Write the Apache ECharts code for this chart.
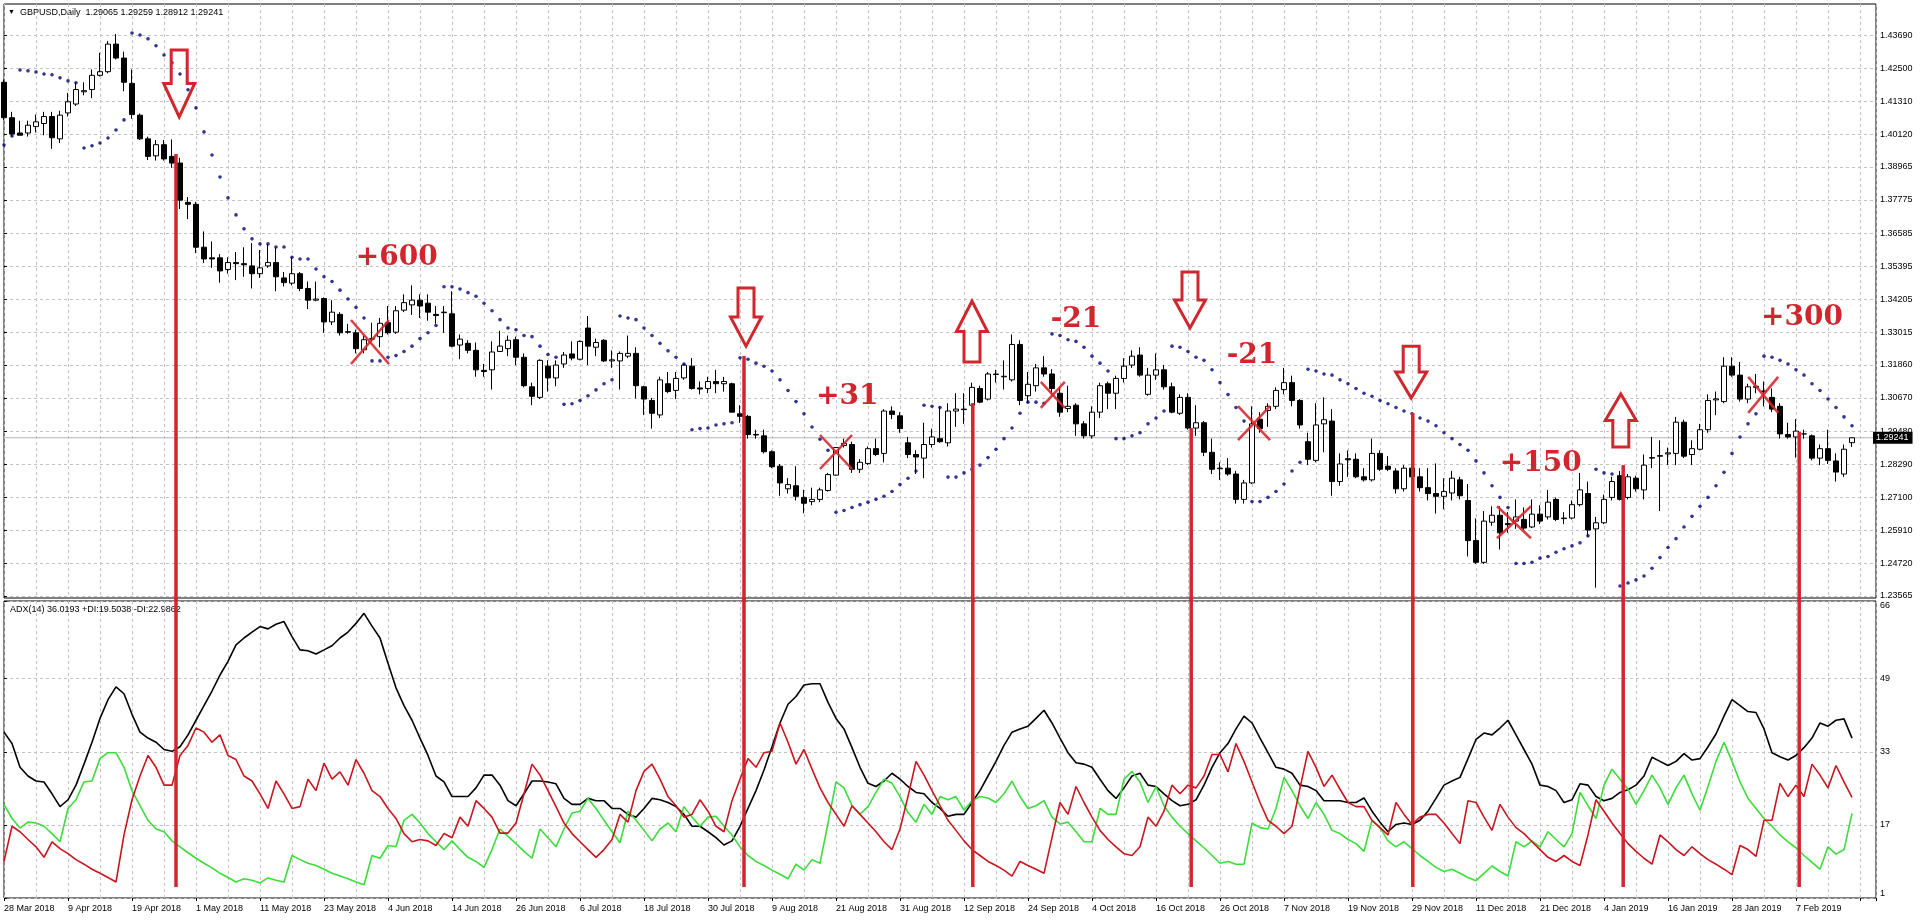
<!DOCTYPE html>
<html>
<head>
<meta charset="utf-8">
<script src="https://cdn.jsdelivr.net/npm/echarts@6/dist/echarts.min.js"></script>
<style>
html,body{margin:0;padding:0;background:#fff;}
#c{width:1920px;height:921px;}
</style>
</head>
<body>
<div id="c"></div>
<script>
// ---------------- DATA ----------------
const DATE_LABELS = ['28 Mar 2018','9 Apr 2018','19 Apr 2018','1 May 2018','11 May 2018','23 May 2018','4 Jun 2018','14 Jun 2018','26 Jun 2018','6 Jul 2018','18 Jul 2018','30 Jul 2018','9 Aug 2018','21 Aug 2018','31 Aug 2018','12 Sep 2018','24 Sep 2018','4 Oct 2018','16 Oct 2018','26 Oct 2018','7 Nov 2018','19 Nov 2018','29 Nov 2018','11 Dec 2018','21 Dec 2018','4 Jan 2019','16 Jan 2019','28 Jan 2019','7 Feb 2019'];
const PRICE_TICKS = [1.23565,1.24720,1.25910,1.27100,1.28290,1.29480,1.30670,1.31860,1.33015,1.34205,1.35395,1.36585,1.37775,1.38965,1.40120,1.41310,1.42500,1.43690];
const ADX_TICKS = [1,17,33,49,66];

const OPEN = [
1.4200,1.4073,1.4018,1.4018,1.4041,1.4052,1.4077,1.3997,1.4090,1.4122,
1.4166,1.4174,1.4225,1.4238,1.4337,1.4287,1.4196,1.4082,1.3997,1.3936,
1.3976,1.3934,1.3910,1.3769,1.3762,1.3608,1.3570,1.3570,1.3528,1.3553,
1.3549,1.3541,1.3513,1.3541,1.3553,1.3498,1.3479,1.3513,1.3460,1.3418,
1.3424,1.3340,1.3367,1.3305,1.3301,1.3240,1.3278,1.3287,1.3337,1.3303,
1.3382,1.3401,1.3418,1.3407,1.3367,1.3373,1.3369,1.3257,1.3263,1.3238,
1.3166,1.3168,1.3234,1.3244,1.3276,1.3213,1.3107,1.3069,1.3181,1.3139,
1.3189,1.3225,1.3206,1.3318,1.3249,1.3274,1.3200,1.3200,1.3217,1.3227,
1.3107,1.3058,1.3006,1.3118,1.3094,1.3139,1.3181,1.3103,1.3101,1.3126,
1.3118,1.3118,1.3010,1.3001,1.2936,1.2931,1.2874,1.2822,1.2741,1.2752,
1.2710,1.2695,1.2703,1.2735,1.2790,1.2896,1.2900,1.2811,1.2832,1.2885,
1.2868,1.3020,1.3003,1.2906,1.2864,1.2851,1.2900,1.2921,1.2906,1.3020,
1.3027,1.3041,1.3101,1.3063,1.3153,1.3143,1.3132,1.3259,1.3075,1.3111,
1.3175,1.3153,1.3084,1.3029,1.3041,1.2974,1.2931,1.3016,1.3118,1.3084,
1.3137,1.3185,1.3221,1.3080,1.3149,1.3168,1.3107,1.3012,1.3069,1.2959,
1.2978,1.2872,1.2815,1.2815,1.2794,1.2703,1.2762,1.2991,1.3022,1.3037,
1.3097,1.3122,1.3058,1.2910,1.2843,1.2974,1.2984,1.2767,1.2849,1.2847,
1.2784,1.2773,1.2868,1.2822,1.2805,1.2741,1.2815,1.2784,1.2745,1.2724,
1.2714,1.2726,1.2773,1.2699,1.2555,1.2477,1.2621,1.2646,1.2616,1.2625,
1.2631,1.2604,1.2650,1.2640,1.2703,1.2636,1.2636,1.2684,1.2724,1.2597,
1.2619,1.2710,1.2788,1.2710,1.2779,1.2737,1.2851,1.2860,1.2866,1.2868,
1.2980,1.2864,1.2883,1.2953,1.3060,1.3054,1.3181,1.3149,1.3063,1.3105,
1.3092,1.3069,1.3037,1.2936,1.2927,1.2938,1.2931,1.2851,1.2885,1.2841,
1.2794,1.29065];

const HIGH = [
1.4210,1.4094,1.4062,1.4062,1.4084,1.4094,1.4094,1.4098,1.4162,1.4200,
1.4200,1.4246,1.4306,1.4348,1.4373,1.4310,1.4246,1.4088,1.4005,1.3993,
1.3993,1.3995,1.3929,1.3788,1.3771,1.3665,1.3629,1.3583,1.3572,1.3591,
1.3608,1.3623,1.3598,1.3619,1.3608,1.3519,1.3572,1.3519,1.3485,1.3485,
1.3428,1.3418,1.3375,1.3333,1.3312,1.3291,1.3337,1.3354,1.3397,1.3397,
1.3439,1.3471,1.3439,1.3439,1.3397,1.3397,1.3450,1.3295,1.3274,1.3266,
1.3189,1.3270,1.3308,1.3291,1.3287,1.3227,1.3122,1.3206,1.3202,1.3202,
1.3232,1.3270,1.3274,1.3361,1.3280,1.3278,1.3238,1.3234,1.3291,1.3249,
1.3111,1.3067,1.3143,1.3160,1.3160,1.3191,1.3210,1.3126,1.3143,1.3168,
1.3143,1.3122,1.3041,1.3006,1.2953,1.2953,1.2879,1.2830,1.2779,1.2822,
1.2737,1.2745,1.2745,1.2798,1.2889,1.2921,1.2910,1.2847,1.2893,1.2921,
1.3027,1.3037,1.3016,1.2927,1.2879,1.2978,1.2957,1.3037,1.3048,1.3084,
1.3084,1.3122,1.3111,1.3160,1.3168,1.3202,1.3295,1.3274,1.3160,1.3189,
1.3217,1.3170,1.3101,1.3111,1.3048,1.2984,1.3037,1.3122,1.3126,1.3147,
1.3210,1.3238,1.3249,1.3175,1.3227,1.3185,1.3122,1.3080,1.3084,1.3041,
1.2984,1.2921,1.2836,1.2851,1.2805,1.2773,1.3037,1.3016,1.3048,1.3105,
1.3175,1.3147,1.3063,1.2942,1.3048,1.3069,1.3027,1.2868,1.2879,1.2868,
1.2815,1.2921,1.2879,1.2858,1.2815,1.2826,1.2826,1.2815,1.2815,1.2832,
1.2779,1.2805,1.2784,1.2758,1.2635,1.2661,1.2678,1.2678,1.2657,1.2703,
1.2674,1.2703,1.2682,1.2737,1.2710,1.2657,1.2699,1.2798,1.2767,1.2640,
1.2720,1.2784,1.2805,1.2794,1.2788,1.2864,1.2927,1.2915,1.2889,1.2999,
1.2989,1.2915,1.2974,1.3080,1.3090,1.3213,1.3213,1.3196,1.3118,1.3153,
1.3126,1.3101,1.3048,1.2978,1.2991,1.2953,1.2936,1.2900,1.2953,1.2868,
1.2900,1.29259];

const LOW = [
1.4065,1.4005,1.4010,1.4005,1.4020,1.4010,1.3961,1.3982,1.4077,1.4115,
1.4153,1.4143,1.4221,1.4232,1.4282,1.4168,1.4069,1.3993,1.3921,1.3919,
1.3919,1.3893,1.3745,1.3709,1.3587,1.3551,1.3534,1.3481,1.3513,1.3490,
1.3502,1.3460,1.3498,1.3534,1.3450,1.3467,1.3471,1.3450,1.3386,1.3414,
1.3301,1.3329,1.3291,1.3297,1.3227,1.3227,1.3270,1.3249,1.3295,1.3297,
1.3375,1.3365,1.3354,1.3344,1.3333,1.3301,1.3249,1.3206,1.3227,1.3143,
1.3143,1.3097,1.3232,1.3217,1.3185,1.3105,1.3041,1.3063,1.3090,1.3109,
1.3175,1.3202,1.3202,1.3185,1.3217,1.3196,1.3175,1.3097,1.3210,1.3065,
1.3006,1.2957,1.2995,1.3084,1.3063,1.3132,1.3097,1.3080,1.3084,1.3084,
1.3090,1.3016,1.2978,1.2921,1.2921,1.2868,1.2815,1.2716,1.2724,1.2699,
1.2653,1.2682,1.2693,1.2731,1.2788,1.2889,1.2798,1.2798,1.2826,1.2858,
1.2836,1.2991,1.2942,1.2851,1.2794,1.2779,1.2889,1.2906,1.2893,1.2963,
1.2974,1.3037,1.3048,1.3058,1.3122,1.3097,1.3126,1.3041,1.3048,1.3090,
1.3143,1.3075,1.2999,1.3016,1.2931,1.2921,1.2921,1.2995,1.3027,1.3027,
1.3122,1.3175,1.3143,1.3075,1.3132,1.3097,1.3012,1.3006,1.2953,1.2931,
1.2858,1.2794,1.2773,1.2788,1.2688,1.2688,1.2758,1.2942,1.2963,1.3027,
1.3080,1.3037,1.2957,1.2826,1.2836,1.2872,1.2716,1.2752,1.2784,1.2779,
1.2767,1.2767,1.2805,1.2805,1.2724,1.2731,1.2779,1.2731,1.2699,1.2652,
1.2667,1.2699,1.2703,1.2498,1.2471,1.2471,1.2608,1.2523,1.2583,1.2597,
1.2593,1.2600,1.2614,1.2631,1.2625,1.2614,1.2631,1.2678,1.2568,1.2386,
1.2614,1.2699,1.2699,1.2703,1.2731,1.2703,1.2815,1.2661,1.2826,1.2826,
1.2851,1.2826,1.2879,1.2942,1.3005,1.3048,1.3143,1.3054,1.3048,1.3084,
1.3037,1.3016,1.2921,1.2921,1.2853,1.2921,1.2843,1.2826,1.2830,1.2767,
1.2784,1.28912];

const CLOSE = [
1.4073,1.4014,1.4010,1.4046,1.4058,1.4077,1.4001,1.4082,1.4130,1.4174,
1.4170,1.4225,1.4238,1.4337,1.4287,1.4200,1.4084,1.3997,1.3934,1.3976,
1.3925,1.3910,1.3777,1.3762,1.3608,1.3566,1.3566,1.3523,1.3553,1.3549,
1.3545,1.3513,1.3534,1.3553,1.3502,1.3481,1.3513,1.3460,1.3418,1.3422,
1.3340,1.3375,1.3301,1.3303,1.3244,1.3276,1.3280,1.3335,1.3301,1.3380,
1.3409,1.3418,1.3397,1.3375,1.3363,1.3375,1.3253,1.3278,1.3238,1.3168,
1.3162,1.3232,1.3253,1.3274,1.3213,1.3111,1.3073,1.3202,1.3139,1.3185,
1.3221,1.3210,1.3270,1.3253,1.3266,1.3200,1.3204,1.3227,1.3227,1.3111,
1.3063,1.3012,1.3132,1.3090,1.3137,1.3185,1.3101,1.3099,1.3126,1.3118,
1.3126,1.3016,1.3001,1.2936,1.2934,1.2874,1.2820,1.2762,1.2756,1.2714,
1.2689,1.2703,1.2737,1.2792,1.2889,1.2904,1.2811,1.2836,1.2885,1.2864,
1.3020,1.3008,1.2957,1.2864,1.2855,1.2900,1.2927,1.2910,1.3020,1.3027,
1.3025,1.3105,1.3052,1.3153,1.3151,1.3145,1.3259,1.3058,1.3116,1.3175,
1.3153,1.3101,1.3016,1.3037,1.2974,1.2931,1.3016,1.3111,1.3084,1.3137,
1.3181,1.3217,1.3149,1.3149,1.3168,1.3107,1.3016,1.3069,1.2959,1.2978,
1.2872,1.2811,1.2813,1.2794,1.2703,1.2762,1.2974,1.2957,1.3037,1.3094,
1.3122,1.3058,1.2970,1.2847,1.2970,1.2989,1.2767,1.2830,1.2845,1.2784,
1.2773,1.2868,1.2811,1.2811,1.2741,1.2815,1.2784,1.2745,1.2724,1.2714,
1.2731,1.2779,1.2716,1.2555,1.2477,1.2625,1.2646,1.2583,1.2612,1.2640,
1.2600,1.2650,1.2625,1.2693,1.2631,1.2634,1.2684,1.2737,1.2593,1.2619,
1.2703,1.2767,1.2703,1.2784,1.2741,1.2826,1.2853,1.2858,1.2870,1.2980,
1.2858,1.2885,1.2953,1.3058,1.3064,1.3181,1.3149,1.3063,1.3107,1.3109,
1.3090,1.3027,1.2938,1.2927,1.2948,1.2938,1.2851,1.2885,1.2843,1.2801,
1.2883,1.29241];

const SAR = [
1.3975,1.4007,1.4244,1.4241,1.4237,1.4230,1.4227,1.4216,1.4205,1.4198,
1.3964,1.3972,1.3982,1.4000,1.4029,1.4065,1.4377,1.4370,1.4356,1.4331,
1.4298,1.4270,1.4230,1.4173,1.4108,1.4022,1.3939,1.3860,1.3785,1.3724,
1.3674,1.3638,1.3620,1.3620,1.3609,1.3609,1.3572,1.3566,1.3566,1.3530,
1.3502,1.3485,1.3454,1.3422,1.3392,1.3354,1.3200,1.3200,1.3213,1.3219,
1.3234,1.3253,1.3280,1.3301,1.3327,1.3466,1.3466,1.3458,1.3445,1.3432,
1.3407,1.3380,1.3348,1.3318,1.3312,1.3291,1.3287,1.3253,1.3223,1.3213,
1.3044,1.3046,1.3058,1.3075,1.3096,1.3118,1.3132,1.3361,1.3354,1.3348,
1.3318,1.3291,1.3263,1.3236,1.3213,1.3189,1.2953,1.2957,1.2959,1.2970,
1.2974,1.2978,1.3211,1.3206,1.3192,1.3181,1.3164,1.3132,1.3094,1.3054,
1.3010,1.2963,1.2919,1.2879,1.2657,1.2663,1.2674,1.2684,1.2693,1.2703,
1.2714,1.2731,1.2756,1.2779,1.2805,1.3041,1.3037,1.3033,1.2783,1.2783,
1.2798,1.2811,1.2826,1.2853,1.2883,1.2921,1.2959,1.3012,1.3052,1.3052,
1.3048,1.3297,1.3291,1.3276,1.3270,1.3249,1.3217,1.3192,1.3164,1.2921,
1.2921,1.2931,1.2942,1.2974,1.2995,1.3020,1.3253,1.3249,1.3234,1.3213,
1.3202,1.3168,1.3122,1.3079,1.3033,1.2984,1.2695,1.2695,1.2710,1.2731,
1.2758,1.2805,1.2836,1.3170,1.3164,1.3153,1.3149,1.3132,1.3118,1.3101,
1.3084,1.3073,1.3058,1.3046,1.3033,1.3020,1.3010,1.2995,1.2984,1.2967,
1.2942,1.2921,1.2900,1.2879,1.2841,1.2798,1.2752,1.2710,1.2674,1.2473,
1.2473,1.2477,1.2492,1.2498,1.2513,1.2526,1.2536,1.2547,1.2572,1.2811,
1.2798,1.2794,1.2392,1.2403,1.2414,1.2428,1.2456,1.2494,1.2530,1.2562,
1.2604,1.2642,1.2678,1.2710,1.2752,1.2800,1.2868,1.2927,1.2974,1.3010,
1.3217,1.3213,1.3202,1.3189,1.3168,1.3149,1.3118,1.3094,1.3063,1.3033,
1.2999,1.2967];

const ADX = [
37.3,34.8,29.6,27.7,26.6,26.4,23.8,21.0,22.5,25.7,
30.3,35.1,40.3,44.4,47.2,45.7,41.2,37.3,36.0,35.1,
33.5,33.1,34.1,36.7,39.9,43.1,46.3,49.8,52.8,56.4,
57.9,59.2,60.4,59.9,60.9,61.5,58.2,55.3,55.1,54.4,
55.3,56.2,57.9,59.2,61.1,63.3,60.5,57.9,52.4,47.0,
43.1,39.9,36.0,32.2,27.7,26.4,23.2,23.2,23.2,25.1,
27.9,27.9,25.7,22.3,21.2,23.8,26.6,26.6,26.4,26.0,
22.8,21.5,21.5,22.8,22.3,22.3,20.6,20.6,19.3,18.7,
20.6,22.8,22.5,21.9,21.0,19.3,16.7,16.7,15.5,14.2,
12.6,13.5,16.7,20.6,24.5,29.0,34.1,39.3,43.4,45.1,
47.6,47.9,47.9,43.8,40.3,38.0,33.9,29.6,26.1,25.4,
26.6,28.3,27.0,25.4,24.1,23.8,21.9,20.6,18.9,19.3,
19.3,21.9,24.5,27.7,30.9,34.4,37.3,38.0,38.6,40.3,
42.1,39.3,36.0,32.8,30.6,30.3,29.6,27.0,24.5,22.8,
25.1,27.7,28.3,25.7,25.4,23.8,22.3,21.2,21.5,22.5,
25.7,29.6,32.8,34.8,38.0,40.8,39.3,36.0,32.8,29.6,
29.2,28.3,25.7,25.4,24.5,22.3,22.3,22.3,21.9,21.9,
22.9,20.0,17.6,15.5,17.1,17.4,17.1,18.0,20.0,22.8,
25.7,26.6,27.4,31.5,35.7,37.1,36.7,38.2,39.9,36.7,
33.5,30.3,25.7,25.4,24.5,21.9,22.5,26.0,25.7,23.2,
22.3,22.8,24.1,24.7,25.7,27.7,31.8,30.9,30.0,30.9,
32.6,31.2,31.5,34.1,36.9,40.8,44.4,43.1,41.8,41.6,
38.0,32.8,31.9,31.2,32.2,33.9,36.0,39.3,38.6,39.9,
40.2,36.0];

const MINUS_DI = [
9.0,16.7,15.5,13.8,12.2,9.9,13.3,11.8,10.7,9.4,
8.4,7.3,6.4,5.5,4.5,14.8,22.5,27.7,32.2,29.6,
25.7,25.7,32.2,34.4,38.2,37.3,35.1,36.7,32.2,31.3,
27.7,26.6,23.8,20.6,26.6,23.8,20.6,21.0,27.0,24.5,
30.5,27.0,28.6,25.7,31.3,28.3,24.5,23.2,20.6,18.4,
15.1,13.3,13.8,13.5,12.5,15.1,14.2,18.7,16.7,22.3,
20.6,18.7,15.2,15.2,17.4,23.8,30.3,27.9,24.5,21.0,
17.4,15.1,13.3,11.6,9.9,11.6,13.8,19.3,17.6,24.5,
28.7,30.3,27.0,23.2,21.2,18.7,19.3,22.5,20.0,16.7,
15.5,22.3,27.0,31.5,29.6,32.8,33.1,39.3,35.1,30.3,
33.5,29.2,25.1,21.9,19.3,16.7,21.2,19.3,17.4,15.5,
13.3,11.6,16.1,23.2,30.9,27.9,24.5,21.2,18.0,15.8,
13.5,11.6,10.3,9.0,8.1,7.1,5.8,9.0,8.1,7.3,
6.4,14.2,21.9,19.3,25.4,21.9,18.7,15.8,13.8,12.2,
10.7,10.3,12.2,18.7,16.7,20.0,25.7,23.8,25.7,25.1,
27.7,32.4,32.4,28.6,34.8,30.9,26.4,21.9,18.0,16.7,
15.1,16.7,25.1,33.1,29.6,25.4,27.9,24.8,21.9,21.0,
21.0,18.0,16.4,14.8,21.9,19.3,17.1,18.7,19.3,19.3,
17.4,15.1,12.9,22.3,21.9,18.7,15.8,21.5,18.7,16.4,
15.1,13.3,11.6,9.9,9.0,10.3,9.0,8.1,14.8,22.5,
20.0,17.4,15.1,12.9,11.2,9.7,8.4,14.8,13.3,11.6,
10.3,12.2,10.7,9.4,8.4,7.3,6.1,12.5,11.6,10.1,
18.0,18.0,26.1,23.2,25.7,23.2,30.3,27.9,25.1,30.0,
26.4,23.0];

const PLUS_DI = [
21.5,18.4,16.3,17.6,17.4,16.7,15.1,13.3,20.6,22.5,
26.4,26.6,31.5,32.8,32.8,29.6,24.5,21.2,18.0,16.1,
15.5,13.5,12.2,10.9,9.7,8.6,7.6,6.4,5.5,4.5,
5.2,4.9,4.3,5.4,4.9,4.5,10.3,9.4,8.6,8.1,
7.3,6.4,5.8,5.2,4.5,3.9,10.3,9.7,12.5,12.2,
18.0,19.3,17.4,15.1,13.3,11.6,13.5,11.6,9.9,9.0,
7.7,11.6,16.1,14.5,12.9,11.2,9.7,16.1,14.2,12.2,
16.1,19.6,20.0,22.8,20.6,18.0,15.5,13.1,20.0,18.0,
15.8,13.5,16.1,17.4,15.5,21.0,18.7,16.7,18.7,18.9,
16.7,14.8,12.2,10.3,9.0,8.1,7.1,6.2,5.2,8.4,
7.1,9.4,8.6,17.4,26.4,25.1,21.2,19.3,21.0,24.1,
27.0,26.1,23.2,19.7,17.6,21.5,19.3,23.2,22.5,23.2,
20.2,22.3,23.2,22.9,21.9,23.8,26.6,23.2,20.6,21.2,
22.3,18.7,17.2,17.6,15.5,13.3,13.3,20.6,19.3,19.3,
27.0,28.7,26.4,21.9,25.4,21.2,18.7,16.7,15.1,13.5,
12.0,10.3,8.6,9.0,8.4,8.4,17.4,16.4,16.1,20.6,
27.4,24.5,21.2,18.4,21.9,19.3,15.8,15.1,13.8,12.9,
11.2,18.0,16.4,13.5,12.2,13.3,11.8,10.3,9.0,7.7,
6.8,7.3,6.4,5.5,4.8,6.4,8.0,6.8,5.8,13.3,
12.2,13.5,12.2,15.5,13.8,12.2,15.1,24.1,21.2,18.4,
25.7,29.2,27.0,24.8,21.5,24.5,27.9,25.1,21.5,25.1,
27.9,23.8,20.2,25.4,30.9,35.1,30.9,26.4,22.8,20.6,
18.4,16.7,14.8,13.3,12.0,10.3,8.8,7.3,12.2,10.6,
11.6,19.5];

// annotations (bar index, price)
const VLINE_X   = [21.5, 92.5, 121.1, 148.4, 176.1, 202.4, 224.4];
const VLINE_TOP = [1.3943, 1.3218, 1.3049, 1.2959, 1.3013, 1.2826, 1.2945];
const VLINE_ADX_BOTTOM = 3.4;
const ARROW_X    = [21.9, 92.75, 121.0, 148.25, 175.9, 202.1];
const ARROW_TIP  = [1.4076, 1.3253, 1.3415, 1.3318, 1.3067, 1.3081];
const ARROW_TAIL = [1.4316, 1.3462, 1.3196, 1.3519, 1.3253, 1.2891];
const XMARK_X = [45.75, 104, 131.1, 156.25, 188.75, 219.9];
const XMARK_Y = [1.3268, 1.2873, 1.3078, 1.2977, 1.2621, 1.3078];
const NOTE_TEXT = ['+600', '+31', '-21', '-21', '+150', '+300'];
const NOTE_X = [49.1, 105.4, 134, 156, 192.1, 224.75];
const NOTE_Y = [1.3569, 1.3070, 1.3347, 1.3218, 1.2830, 1.3354];
const ADX_HEADER = 'ADX(14) 36.0193 +DI:19.5038 -DI:22.9862';

// ---------------- STYLE ----------------
const RED = '#d0262d';
const FONT = '"Liberation Sans", Arial, sans-serif';
const NOTE_FONT = 'bold 28px "DejaVu Serif", serif';
const XMARK_HALF = [[19,22],[16,17],[12,13],[16,17],[17,16],[15,18]];
const N = OPEN.length;
const X_MAX = 234;
const Y_MIN = 1.2349, Y_MAX = 1.4481;
const gridLine = {show: true, lineStyle: {color: '#c2c2c2', width: 1, type: [3, 3]}};

const candleData = OPEN.map((o, i) => [i, o, CLOSE[i], LOW[i], HIGH[i]]);
const last = N - 1;
const header = 'GBPUSD,Daily  ' + [OPEN[last], HIGH[last], LOW[last], CLOSE[last]].map(v => v.toFixed(5)).join(' ');

function xAxisBase(gridIndex, showLabels) {
  return {
    type: 'value', gridIndex, min: 0, max: X_MAX, interval: 8,
    axisLine: {show: false},
    axisTick: {show: showLabels, length: 3, lineStyle: {color: '#000'}},
    axisLabel: showLabels ? {
      show: true, align: 'left', margin: 6, fontSize: 9, color: '#000', fontFamily: FONT,
      formatter: v => (v % 8 === 0 && DATE_LABELS[v / 8]) ? DATE_LABELS[v / 8] : ''
    } : {show: false},
    splitLine: gridLine,
    minorTick: {show: false, splitNumber: 2},
    minorSplitLine: gridLine
  };
}

const option = {
  animation: false,
  backgroundColor: '#fff',
  grid: [
    {left: 4, top: 4, width: 1872, height: 594, show: true, borderColor: '#000', borderWidth: 1, backgroundColor: '#fff'},
    {left: 4, top: 601, width: 1872, height: 297, show: true, borderColor: '#000', borderWidth: 1, backgroundColor: '#fff'}
  ],
  xAxis: [xAxisBase(0, false), xAxisBase(1, true)],
  yAxis: [
    {
      type: 'value', gridIndex: 0, position: 'right', min: Y_MIN, max: Y_MAX,
      axisLine: {show: false},
      axisTick: {show: true, length: 3, customValues: PRICE_TICKS, lineStyle: {color: '#000'}},
      axisLabel: {customValues: PRICE_TICKS, formatter: v => v.toFixed(5), fontSize: 9, color: '#000', margin: 4, fontFamily: FONT},
      splitLine: gridLine
    },
    {
      type: 'value', gridIndex: 1, position: 'right', min: 1, max: 66,
      axisLine: {show: false},
      axisTick: {show: true, length: 3, customValues: ADX_TICKS, lineStyle: {color: '#000'}},
      axisLabel: {customValues: ADX_TICKS, fontSize: 9, color: '#000', margin: 4, fontFamily: FONT,
        verticalAlignMinLabel: 'bottom', verticalAlignMaxLabel: 'top'},
      splitLine: gridLine
    }
  ],
  graphic: [
    {type: 'text', left: 8, top: 9, silent: true, style: {text: '\u25BC', font: '7px ' + FONT, fill: '#000'}},
    {type: 'text', left: 20, top: 8, silent: true, style: {text: header, font: '9px ' + FONT, fill: '#000'}},
    {type: 'text', left: 10, top: 605, silent: true, style: {text: ADX_HEADER, font: '9px ' + FONT, fill: '#000'}}
  ],
  series: [
    {
      type: 'line', xAxisIndex: 0, yAxisIndex: 0, z: 1, silent: true,
      data: [[0, CLOSE[last]], [X_MAX, CLOSE[last]]],
      showSymbol: false, symbol: 'none',
      lineStyle: {color: '#b4b4b4', width: 1},
      endLabel: {show: true, formatter: () => CLOSE[last].toFixed(5), color: '#fff', backgroundColor: '#000',
        padding: [2, 4, 1, 3], fontSize: 9, fontFamily: FONT, distance: -3}
    },
    {
      type: 'candlestick', xAxisIndex: 0, yAxisIndex: 0, z: 2, silent: true,
      data: candleData, encode: {x: 0, y: [1, 2, 3, 4]},
      barWidth: 5,
      itemStyle: {color: '#fff', color0: '#000', borderColor: '#000', borderColor0: '#000', borderWidth: 1}
    },
    {
      type: 'scatter', xAxisIndex: 0, yAxisIndex: 0, z: 3, silent: true,
      data: SAR.map((v, i) => [i, v]), symbol: 'circle', symbolSize: 3.6,
      itemStyle: {color: '#00007a'}
    },
    {
      type: 'line', xAxisIndex: 1, yAxisIndex: 1, z: 2, silent: true, showSymbol: false, symbol: 'none',
      data: ADX.map((v, i) => [i, v]), lineStyle: {color: '#000', width: 1.6}
    },
    {
      type: 'line', xAxisIndex: 1, yAxisIndex: 1, z: 2, silent: true, showSymbol: false, symbol: 'none',
      data: PLUS_DI.map((v, i) => [i, v]), lineStyle: {color: '#3bdc3b', width: 1.6}
    },
    {
      type: 'line', xAxisIndex: 1, yAxisIndex: 1, z: 2, silent: true, showSymbol: false, symbol: 'none',
      data: MINUS_DI.map((v, i) => [i, v]), lineStyle: {color: '#c8161e', width: 1.6}
    },
    // red vertical lines, price panel
    {
      type: 'custom', xAxisIndex: 0, yAxisIndex: 0, z: 10, silent: true,
      data: VLINE_X.map((x, k) => [x, VLINE_TOP[k]]),
      renderItem: (params, api) => {
        const p1 = api.coord([api.value(0), api.value(1)]);
        const p2 = api.coord([api.value(0), Y_MIN]);
        return {type: 'line', shape: {x1: p1[0], y1: p1[1], x2: p2[0], y2: p2[1] + 4},
          style: {stroke: RED, lineWidth: 3.5}};
      }
    },
    // red vertical lines, ADX panel
    {
      type: 'custom', xAxisIndex: 1, yAxisIndex: 1, z: 10, silent: true,
      data: VLINE_X.map(x => [x, VLINE_ADX_BOTTOM]),
      renderItem: (params, api) => {
        const p1 = api.coord([api.value(0), 66]);
        const p2 = api.coord([api.value(0), api.value(1)]);
        return {type: 'line', shape: {x1: p1[0], y1: p1[1] - 3, x2: p2[0], y2: p2[1]},
          style: {stroke: RED, lineWidth: 3.5}};
      }
    },
    // hollow arrows
    {
      type: 'custom', xAxisIndex: 0, yAxisIndex: 0, z: 11, silent: true,
      data: ARROW_X.map((x, k) => [x, ARROW_TIP[k], ARROW_TAIL[k]]),
      renderItem: (params, api) => {
        const tip = api.coord([api.value(0), api.value(1)]);
        const tail = api.coord([api.value(0), api.value(2)]);
        const cx = tip[0];
        const base = tip[1] + (tail[1] - tip[1]) * 0.5;
        const hw = 15.5, sw = 8;
        return {
          type: 'polygon',
          shape: {points: [[cx - sw, tail[1]], [cx + sw, tail[1]], [cx + sw, base], [cx + hw, base], [cx, tip[1]], [cx - hw, base], [cx - sw, base]]},
          style: {fill: 'rgba(0,0,0,0)', stroke: RED, lineWidth: 3, lineJoin: 'miter'}
        };
      }
    },
    // X marks
    {
      type: 'custom', xAxisIndex: 0, yAxisIndex: 0, z: 11, silent: true,
      data: XMARK_X.map((x, k) => [x, XMARK_Y[k]]),
      renderItem: (params, api) => {
        const c = api.coord([api.value(0), api.value(1)]);
        const [hw, hh] = XMARK_HALF[params.dataIndex];
        const st = {stroke: 'rgba(214,40,46,0.9)', lineWidth: 2.5};
        return {type: 'group', children: [
          {type: 'line', shape: {x1: c[0] - hw, y1: c[1] + hh, x2: c[0] + hw, y2: c[1] - hh}, style: st},
          {type: 'line', shape: {x1: c[0] - hw, y1: c[1] - hh, x2: c[0] + hw, y2: c[1] + hh}, style: st}
        ]};
      }
    },
    // text notes
    {
      type: 'custom', xAxisIndex: 0, yAxisIndex: 0, z: 12, silent: true,
      data: NOTE_X.map((x, k) => [x, NOTE_Y[k]]),
      renderItem: (params, api) => {
        const c = api.coord([api.value(0), api.value(1)]);
        return {
          type: 'text', x: c[0], y: c[1],
          style: {text: NOTE_TEXT[params.dataIndex], fill: RED, font: NOTE_FONT,
            align: 'center', verticalAlign: 'middle', textAlign: 'center', textVerticalAlign: 'middle'}
        };
      }
    }
  ]
};

const chart = echarts.init(document.getElementById('c'));
chart.setOption(option);
</script>
</body>
</html>
